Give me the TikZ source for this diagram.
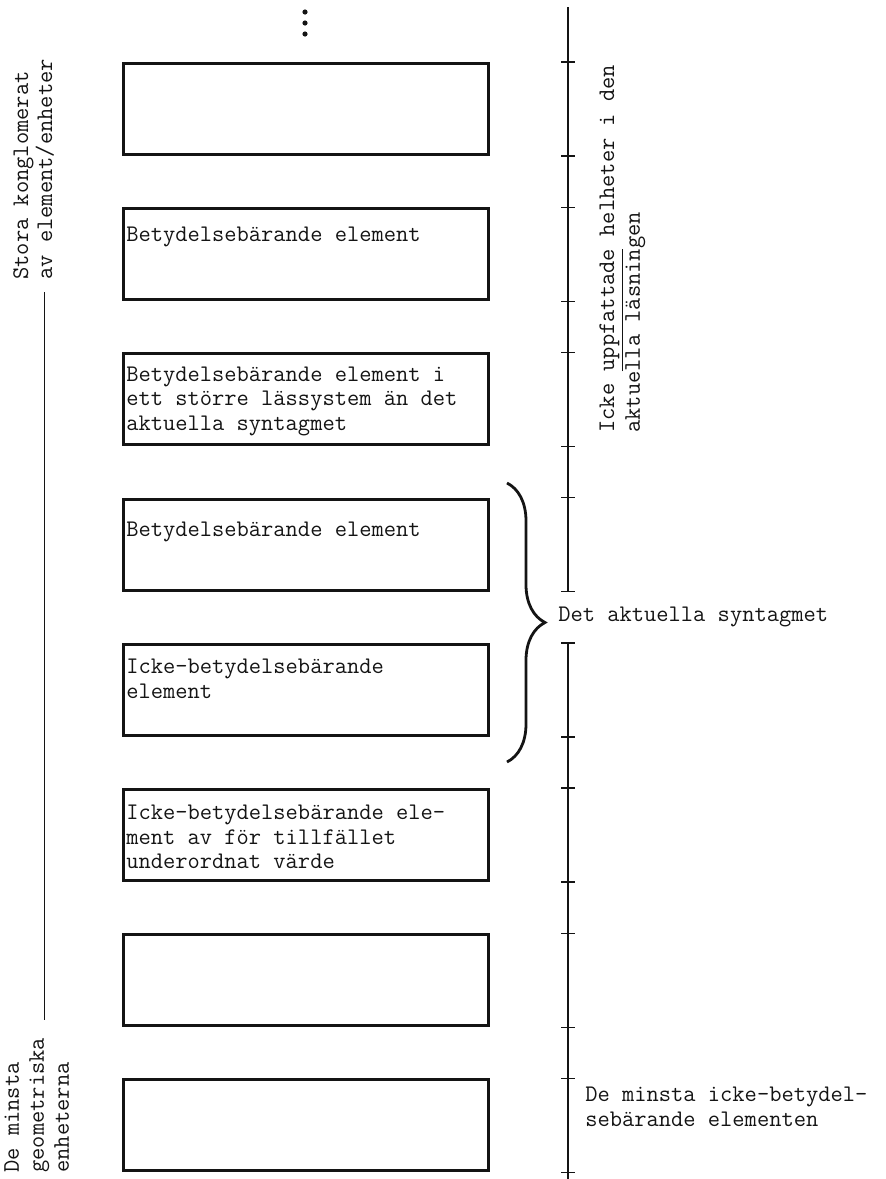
\documentclass[tikz,border=0pt]{standalone}
\usepackage{fontspec}
\usepackage{tikz}
\usetikzlibrary{calc,positioning,decorations.pathreplacing}
\definecolor{ink}{HTML}{141414}
\tikzset{
  elbox/.style={draw=ink,line width=1.5pt,minimum width=182.5pt,minimum height=45.5pt,inner sep=0pt,anchor=north west},
  eltext/.style={anchor=north west,align=left,inner sep=0pt,text=ink,font=\ttfamily\fontsize{11.9}{12.25}\selectfont},
  sidetext/.style={anchor=north west,align=left,inner sep=0pt,text=ink,rotate=90},
  axis/.style={draw=ink,line width=0.7pt},
  brc/.style={draw=ink,line width=1.4pt,decorate,decoration={brace,amplitude=19pt}}
}
\begin{document}
\begin{tikzpicture}[x=0.5pt,y=-0.5pt]
\useasboundingbox (0,0) rectangle (885,1179);
\foreach \y in {12,23,34}{\fill[ink] (305,\y) circle (1.3pt);}
\foreach \i in {1,...,8}{\node[elbox] (b\i) at (122,{62+145.2*(\i-1)}) {};}
\node[eltext] (t2) at ($(b2.north west)+(4,19)$) {Betydelsebärande element};
\node[eltext] (t3) at ($(b3.north west)+(4,14)$) {Betydelsebärande element i\\ett större lässystem än det\\aktuella syntagmet};
\node[eltext] (t4) at ($(b4.north west)+(4,24)$) {Betydelsebärande element};
\node[eltext] (t5) at ($(b5.north west)+(4,16)$) {Icke-betydelsebärande\\element};
\node[eltext] (t6) at ($(b6.north west)+(4,17)$) {Icke-betydelsebärande ele-\\ment av för tillfället\\underordnat värde};
\coordinate (ax) at (568,0);
\draw[axis] (568,7) -- (b4.south -| ax);
\draw[axis] (b5.north -| ax) -- (568,1179);
\foreach \i in {1,...,8}{
  \draw[axis] ($(b\i.north -| ax)+(-7,0)$) -- ++(14,0);
  \draw[axis] ($(b\i.south -| ax)+(-7,0)$) -- ++(14,0);
}
\draw[brc] (507,483) -- (507,762);
\node[eltext,anchor=west] (syn) at (558,617) {Det aktuella syntagmet};
\node[sidetext,font=\ttfamily\fontsize{11.9}{11}\selectfont] (hel) at (599,433) {Icke \underline{uppfattade} helheter i den\\aktuella läsningen};
\node[eltext] (minel) at (585,1087) {De minsta icke-betydel-\\sebärande elementen};
\node[sidetext,font=\ttfamily\fontsize{11.9}{10.5}\selectfont] (stora) at (13,280) {Stora konglomerat\\av element/enheter};
\node[sidetext,font=\ttfamily\fontsize{11.9}{12.5}\selectfont] (geo) at (4,1173) {De minsta\\geometriska\\enheterna};
\draw[ink,line width=0.5pt] (44,292) -- (44,1020);
\end{tikzpicture}
\end{document}
